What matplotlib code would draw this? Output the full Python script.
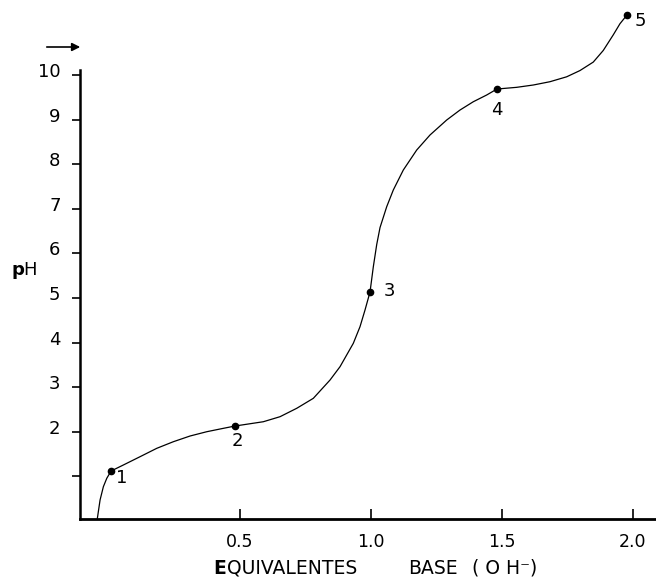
import matplotlib
matplotlib.use("Agg")
import matplotlib.pyplot as plt
import matplotlib.transforms as mtransforms

# ---- data ----
curve_x = [-0.0447, -0.0344, -0.0218, -0.0088, 0.0076, 0.0546, 0.1183, 0.1821,
           0.2454, 0.3092, 0.3729, 0.4363, 0.4809, 0.5889, 0.6527, 0.7164,
           0.7798, 0.8435, 0.8817, 0.9324, 0.9580, 0.9771, 0.9962, 1.0088,
           1.0218, 1.0344, 1.0599, 1.0851, 1.1233, 1.1744, 1.2252, 1.2889,
           1.3397, 1.3905, 1.4416, 1.4809, 1.5561, 1.6195, 1.6832, 1.7469,
           1.7977, 1.8485, 1.8866, 1.9248, 1.9504, 1.9771]
curve_ph = [0.061, 0.471, 0.769, 0.957, 1.121, 1.256, 1.442, 1.630,
            1.778, 1.906, 2.002, 2.078, 2.130, 2.226, 2.339, 2.527,
            2.751, 3.161, 3.460, 3.984, 4.357, 4.731, 5.135, 5.700,
            6.200, 6.580, 7.047, 7.422, 7.870, 8.318, 8.655, 8.991,
            9.215, 9.401, 9.552, 9.686, 9.724, 9.776, 9.850, 9.960,
            10.100, 10.290, 10.550, 10.900, 11.150, 11.345]

point_x = [0.0076, 0.4809, 0.9962, 1.4809, 1.9771]
point_ph = [1.121, 2.130, 5.135, 9.686, 11.345]
point_labels = ["1", "2", "3", "4", "5"]
label_offsets = [(8, -5), (1.5, -11), (14, 1), (0, -15), (9.5, -4)]

x_ticks = [0.5, 1.0, 1.5, 2.0]
x_ticklabels = ["0.5", "1.0", "1.5", "2.0"]
y_ticks = [1, 2, 3, 4, 5, 6, 7, 8, 9, 10]
y_ticklabels = ["", "2", "3", "4", "5", "6", "7", "8", "9", "10"]

W, H = 656, 578
fig = plt.figure(figsize=(W / 100, H / 100), dpi=100)
ax = fig.add_axes([80 / W, (H - 519) / H, (656 - 80) / W, (519 - 5) / H])
ax.set_xlim(-0.111, 2.088)
ax.set_ylim(0.045, 11.57)

ax.plot(curve_x, curve_ph, color="black", lw=0.9, clip_on=False,
        solid_joinstyle="round")
ax.plot(point_x, point_ph, "o", color="black", ms=4.5, clip_on=False)
for x, y, t, off in zip(point_x, point_ph, point_labels, label_offsets):
    ax.annotate(t, (x, y), xytext=off, textcoords="offset points",
                ha="center", va="center", fontsize=13, annotation_clip=False)

for s in ["top", "right"]:
    ax.spines[s].set_visible(False)
ax.spines["left"].set_linewidth(1.8)
ax.spines["bottom"].set_linewidth(2.0)
ax.spines["left"].set_bounds(0.045, 10.11)

ax.set_xticks(x_ticks)
ax.set_xticklabels(x_ticklabels, fontsize=12.5)
ax.set_yticks(y_ticks)
ax.set_yticklabels(y_ticklabels, fontsize=13)
ax.tick_params(axis="x", direction="in", length=7, width=1.2, pad=10)
ax.tick_params(axis="y", direction="out", length=6, width=1.2, pad=8)

offset = mtransforms.ScaledTranslation(0, 5 / 100, fig.dpi_scale_trans)
for lab in ax.get_yticklabels():
    lab.set_transform(lab.get_transform() + offset)

ypos = (H - 574) / H
fig.text(213 / W, ypos, "E", fontsize=13.5, fontweight="bold",
         ha="left", va="baseline")
fig.text(227 / W, ypos, "QUIVALENTES", fontsize=13.5, ha="left", va="baseline")
fig.text(408 / W, ypos, "BASE", fontsize=13.5, ha="left", va="baseline")
fig.text(472 / W, ypos, "( O H\u207b)", fontsize=13.5, ha="left", va="baseline")
fig.text(24 / W, (H - 270) / H, r"$\mathbf{p}$H", fontsize=13,
         ha="center", va="center")

ax.annotate("", xy=(83, H - 47), xycoords="figure pixels",
            xytext=(44, H - 47), textcoords="figure pixels",
            arrowprops=dict(arrowstyle="-|>", color="black", lw=1.2,
                            mutation_scale=12))

fig.savefig("out.png", dpi=100)
